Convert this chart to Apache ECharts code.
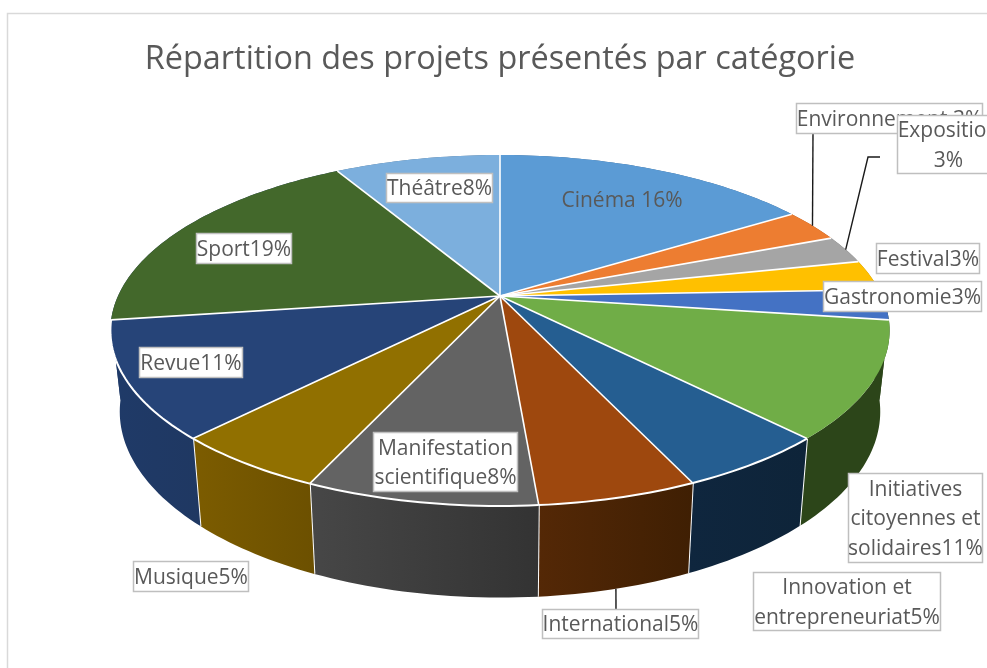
<!DOCTYPE html>
<html>
<head>
<meta charset="utf-8">
<title>Répartition des projets</title>
<style>
  html, body { margin: 0; padding: 0; background: #fff; }
  #main { width: 987px; height: 668px; overflow: hidden; }
</style>
<script src="https://cdn.jsdelivr.net/npm/echarts@6/dist/echarts.min.js"></script>
</head>
<body>
<div id="main"></div>
<script>
// slice sizes are measured from the drawing, the printed percentages are the rounded labels
var categories = ['Cinéma ', 'Environnement ', 'Exposition\n', 'Festival', 'Gastronomie',
  'Initiatives\ncitoyennes et\nsolidaires', 'Innovation et\nentrepreneuriat', 'International',
  'Manifestation\nscientifique', 'Musique', 'Revue', 'Sport', 'Théâtre']
var shares = [16.0, 3.0, 2.6, 2.8, 2.8, 10.7, 5.3, 5.5, 8.0, 5.4, 10.7, 18.9, 8.3]
var printedPercent = [16, 3, 3, 3, 3, 11, 5, 5, 8, 5, 11, 19, 8]

var topColors = ['#5b9bd5', '#ed7d31', '#a5a5a5', '#ffc000', '#4472c4', '#70ad47', '#255e91',
  '#9e480e', '#636363', '#917000', '#264478', '#43682b', '#7cafdd']
// the walls at both ends of the visible side only fill the silhouette, so they take the neighbour's colour
var wallColors = [
  ['#3a6690', '#3a6690'], ['#9c5220', '#9c5220'], ['#6d6d6d', '#6d6d6d'], ['#a87f00', '#a87f00'],
  ['#2c4519', '#2c4519'], ['#2c4519', '#2c4519'], ['#0f263e', '#0e2439'], ['#542806', '#3f1f03'],
  ['#474747', '#333333'], ['#7c5c00', '#6c5000'], ['#1f3a68', '#1f3862'], ['#1f3a68', '#1f3a68'],
  ['#527392', '#527392']
]

// label boxes [x, y, w, h], no box for Cinéma
var labelBoxes = [
  [622, 200, 0, 0], [796.5, 103.5, 186, 30], [897.5, 115.5, 102, 58], [876.5, 243.5, 103, 30],
  [823.5, 281.5, 158, 30], [848.5, 473.5, 134, 89], [753.5, 572.5, 187, 58], [542.5, 609.5, 156, 29],
  [373.5, 432.5, 144, 59], [133.5, 561.5, 115, 30], [139.5, 347.5, 103, 30], [196.5, 233.5, 95, 30],
  [386.5, 173.5, 106, 29]
]
// far ends of the leader lines, the near end sits on the slice
var leaderEnds = { 1: [[813, 133]], 2: [[868, 157], [880, 157]], 7: [[616, 609]] }
var leaderOnWall = { 7: true }

var cx = 500, cy = 296
var radius = 382, flat = 168.7, persp = 0.1966
var wallScaleX = 0.976, wallScaleY = 1.06, wallDrop = 79
var font = '"Open Sans", sans-serif'

var starts = []
shares.reduce(function (sum, v, i) {
  starts[i] = sum
  return sum + v
}, 0)
var rows = shares.map(function (v, i) { return [i, v, starts[i]] })

function rimPoint (pct) {
  var a = pct / 100 * Math.PI * 2
  var w = 1 + persp * Math.cos(a)
  return [cx + radius * Math.sin(a) / w, cy - flat * Math.cos(a) / w]
}
function floorPoint (pct) {
  var p = rimPoint(pct)
  return [cx + (p[0] - cx) * wallScaleX, cy + (p[1] - cy) * wallScaleY + wallDrop]
}
function arc (from, to, fn) {
  var pts = []
  var n = Math.max(6, Math.ceil((to - from) * 3))
  for (var i = 0; i <= n; i++) {
    pts.push(fn(from + (to - from) * i / n))
  }
  return pts
}

function renderWall (params, api) {
  var i = api.value(0), from = api.value(2), to = from + api.value(1)
  var pts = arc(from, to, rimPoint).concat(arc(from, to, floorPoint).reverse())
  return {
    type: 'group',
    children: [{
      type: 'polygon',
      shape: { points: pts },
      style: {
        fill: {
          type: 'linear', x: 0, y: 0, x2: 1, y2: 0,
          colorStops: [{ offset: 0, color: wallColors[i][0] }, { offset: 1, color: wallColors[i][1] }]
        }
      }
    }, {
      type: 'polyline',
      shape: { points: [rimPoint(to), floorPoint(to)] },
      style: { stroke: '#fff', lineWidth: i < 10 && i > 4 ? 2 : 0, fill: null }
    }]
  }
}

function renderTop (params, api) {
  var i = api.value(0), from = api.value(2), to = from + api.value(1)
  var children = [{
    type: 'polygon',
    shape: { points: [[cx, cy]].concat(arc(from, to, rimPoint)) },
    style: { fill: topColors[i] }
  }]
  return { type: 'group', children: children }
}

// separators and the white rim go over all the slices
function renderEdges (params, api) {
  var i = api.value(0), from = api.value(2), to = from + api.value(1)
  var children = [{
    type: 'polyline',
    shape: { points: [[cx, cy], rimPoint(from)] },
    style: { stroke: '#fff', lineWidth: 1.6, fill: null }
  }]
  if (i >= 6 && i <= 10) {
    children.push({
      type: 'polyline',
      shape: { points: arc(from, to, rimPoint) },
      style: { stroke: '#fff', lineWidth: 2, fill: null }
    })
  }
  return { type: 'group', children: children }
}

function renderLabel (params, api) {
  var i = api.value(0), from = api.value(2), mid = from + api.value(1) / 2
  var box = labelBoxes[i]
  var text = categories[i] + printedPercent[i] + '%'
  var children = []
  if (leaderEnds[i]) {
    var near = leaderOnWall[i] ? floorPoint(mid) : rimPoint(mid)
    children.push({
      type: 'polyline',
      shape: { points: [near].concat(leaderEnds[i]) },
      style: { stroke: '#1a1a1a', lineWidth: 1.4, fill: null }
    })
  }
  if (box[2] > 0) {
    children.push({
      type: 'rect',
      shape: { x: box[0], y: box[1], width: box[2], height: box[3] },
      style: { fill: '#fff', stroke: '#bfbfbf', lineWidth: 1.5 }
    })
  }
  children.push({
    type: 'text',
    style: {
      text: text,
      x: box[0] + box[2] / 2,
      y: box[1] + box[3] / 2 + 1.5,
      align: 'center',
      verticalAlign: 'middle',
      fill: '#595959',
      fontSize: 21,
      fontFamily: font,
      lineHeight: 29.5
    }
  })
  return { type: 'group', children: children }
}

var myChart = echarts.init(document.getElementById('main'))
myChart.setOption({
  animation: false,
  backgroundColor: '#fff',
  title: {
    text: 'Répartition des projets présentés par catégorie',
    left: 495,
    top: 39,
    textAlign: 'center',
    textStyle: { color: '#595959', fontSize: 32.4, fontWeight: 'normal', fontFamily: font }
  },
  graphic: [{
    type: 'rect',
    z: -1,
    shape: { x: 7.5, y: 13.5, width: 1100, height: 800 },
    style: { fill: '#fff', stroke: '#d9d9d9', lineWidth: 1.5 }
  }],
  series: [
    { type: 'custom', coordinateSystem: 'none', z: 2, data: rows, renderItem: renderWall },
    { type: 'custom', coordinateSystem: 'none', z: 3, data: rows, renderItem: renderTop },
    { type: 'custom', coordinateSystem: 'none', z: 4, data: rows, renderItem: renderEdges },
    { type: 'custom', coordinateSystem: 'none', z: 5, data: rows, renderItem: renderLabel }
  ]
})
</script>
</body>
</html>
